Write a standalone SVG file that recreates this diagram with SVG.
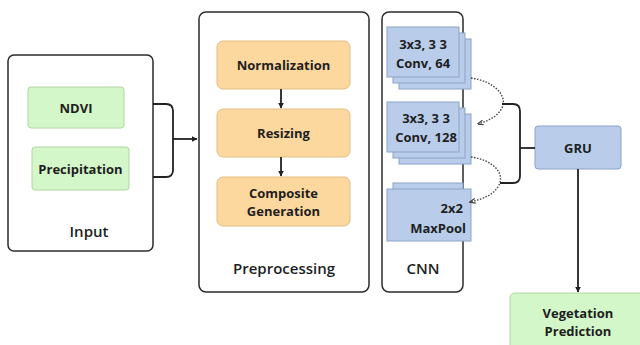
<svg xmlns="http://www.w3.org/2000/svg" width="640" height="345" viewBox="0 0 640 345">
<style>
.frame{fill:#fff;stroke:#2b2b2b;stroke-width:1.5}
.green{fill:#d4f7c9;stroke:#b2d6a6;stroke-width:1}
.orange{fill:#fdd89e;stroke:#e2bd84;stroke-width:1}
.blue{fill:#b9cdeb;stroke:#8aa3c8;stroke-width:1}
.t{font-family:"Open Sans","Noto Sans",sans-serif;font-weight:700;fill:#1e1e1e;text-anchor:middle;dominant-baseline:central}
.s{font-size:13px}
.l{font-size:15px;font-weight:600}
.line{fill:none;stroke:#222;stroke-width:1.8}
.dot{fill:none;stroke:#444;stroke-width:1.4;stroke-dasharray:1.5 1.5}
</style>
<defs>
<marker id="ah" viewBox="0 0 10 10" refX="9" refY="5" markerWidth="6" markerHeight="6" orient="auto" markerUnits="userSpaceOnUse"><path d="M0,0 L10,5 L0,10 z" fill="#222"/></marker>
<marker id="ad" viewBox="0 0 10 10" refX="9" refY="5" markerWidth="6" markerHeight="6" orient="auto" markerUnits="userSpaceOnUse"><path d="M0,1 L10,5 L0,9" fill="none" stroke="#444" stroke-width="2"/></marker>
</defs>

<g id="input">
<rect class="frame" x="8" y="55" width="145" height="196" rx="6"/>
<text class="t l" x="89" y="231">Input</text>
</g>
<g id="ndvi">
<rect class="green" x="28" y="87" width="96" height="41" rx="3"/>
<text class="t s" x="76" y="108">NDVI</text>
</g>
<g id="precipitation">
<rect class="green" x="32" y="147" width="97" height="43" rx="3"/>
<text class="t s" x="80.5" y="169">Precipitation</text>
</g>

<g id="preprocessing">
<rect class="frame" x="199" y="12" width="170" height="280" rx="7"/>
<text class="t l" x="284" y="268">Preprocessing</text>
</g>
<g id="normalization">
<rect class="orange" x="217" y="41" width="133" height="48" rx="6"/>
<text class="t s" x="283.5" y="65">Normalization</text>
</g>
<g id="resizing">
<rect class="orange" x="217" y="109" width="133" height="48" rx="6"/>
<text class="t s" x="283.5" y="133">Resizing</text>
</g>
<g id="composite">
<rect class="orange" x="217" y="177" width="133" height="49" rx="6"/>
<text class="t s" x="283.5" y="193">Composite</text>
<text class="t s" x="283.5" y="211">Generation</text>
</g>

<g id="cnn">
<rect class="frame" x="382" y="12" width="81" height="280" rx="7"/>
<text class="t l" x="423" y="268">CNN</text>
</g>
<g id="conv64">
<rect class="blue" x="399" y="39" width="72" height="50"/>
<rect class="blue" x="393" y="33" width="72" height="50"/>
<rect class="blue" x="387" y="27" width="72" height="50"/>
<text class="t s" x="423" y="44">3x3, 3 3</text>
<text class="t s" x="423" y="63">Conv, 64</text>
</g>
<g id="conv128">
<rect class="blue" x="399" y="114" width="72" height="50"/>
<rect class="blue" x="393" y="108" width="72" height="50"/>
<rect class="blue" x="387" y="102" width="72" height="50"/>
<text class="t s" x="426" y="118">3x3, 3 3</text>
<text class="t s" x="426" y="137">Conv, 128</text>
</g>
<g id="maxpool">
<rect class="blue" x="393" y="183" width="70" height="45"/>
<rect class="blue" x="387" y="189" width="84" height="52"/>
<text class="t s" x="463" y="208" style="text-anchor:end">2x2</text>
<text class="t s" x="466" y="228" style="text-anchor:end">MaxPool</text>
</g>

<g id="gru">
<rect class="blue" x="535" y="126" width="86" height="43" rx="3"/>
<text class="t s" x="578" y="148">GRU</text>
</g>
<g id="vegetation">
<rect class="green" x="510" y="293" width="140" height="60" rx="5"/>
<text class="t s" x="578" y="313">Vegetation</text>
<text class="t s" x="578" y="331">Prediction</text>
</g>

<g id="connectors">
<path class="line" d="M153,104 H166 Q173,104 173,111 V170 Q173,177 166,177 H153"/>
<path class="line" d="M173,139 H197" marker-end="url(#ah)"/>
<path class="line" d="M281,89 V108" marker-end="url(#ah)"/>
<path class="line" d="M281,157 V176" marker-end="url(#ah)"/>
<path class="dot" d="M471,78 C494,81 508,96 502,108 C497,117 488,121 478,124" marker-end="url(#ad)"/>
<path class="dot" d="M471,157 C492,160 505,172 499,185 C494,195 483,199 470,202" marker-end="url(#ad)"/>
<path class="line" d="M502,104 H513 Q520,104 520,111 V176 Q520,183 513,183 H500"/>
<path class="line" d="M520,148 H535"/>
<path class="line" d="M578,169 V292" marker-end="url(#ah)"/>
</g>
</svg>
